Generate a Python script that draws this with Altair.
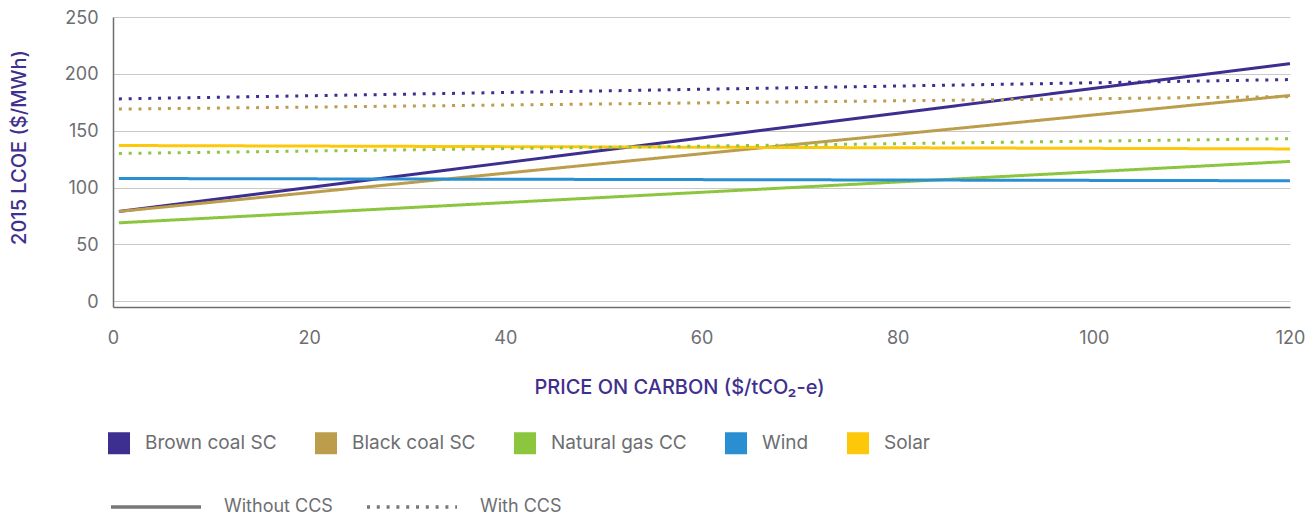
import altair as alt
import pandas as pd

# ---- data ----
technologies = ["Brown coal SC", "Black coal SC", "Natural gas CC", "Wind", "Solar"]
tech_colors = ["#3c2f90", "#bb9d4b", "#8cc63f", "#2a8fd0", "#fec80a"]
ccs_types = ["Without CCS", "With CCS"]

price_start = 0.6
price_end = 120

without_ccs_start = [79, 79, 69, 108, 137]
without_ccs_end = [209, 181, 123, 106, 134]

with_ccs_techs = ["Brown coal SC", "Black coal SC", "Natural gas CC"]
with_ccs_start = [178, 169, 130]
with_ccs_end = [195, 180, 143]

y_ticks = [0, 50, 100, 150, 200, 250]
x_ticks = [0, 20, 40, 60, 80, 100, 120]

rows = []
for t, a, b in zip(technologies, without_ccs_start, without_ccs_end):
    rows.append({"tech": t, "ccs": "Without CCS", "price": price_start, "lcoe": a})
    rows.append({"tech": t, "ccs": "Without CCS", "price": price_end, "lcoe": b})
for t, a, b in zip(with_ccs_techs, with_ccs_start, with_ccs_end):
    rows.append({"tech": t, "ccs": "With CCS", "price": price_start, "lcoe": a})
    rows.append({"tech": t, "ccs": "With CCS", "price": price_end, "lcoe": b})
df = pd.DataFrame(rows)
df["series"] = df["tech"] + " | " + df["ccs"]

FONT = "Inter"
GREY = "#6d6e71"
PURPLE = "#3f2f8e"

chart = (
    alt.Chart(df)
    .mark_line(strokeCap="butt", strokeWidth=3)
    .encode(
        x=alt.X(
            "price:Q",
            scale=alt.Scale(domain=[0, 120], nice=False, zero=False),
            axis=alt.Axis(
                title="PRICE ON CARBON ($/tCO₂-e)",
                values=x_ticks,
                grid=False,
                ticks=False,
                tickSize=0,
                labelFlush=False,
                labelPadding=31,
                labelBaseline="middle",
                labelFontSize=18,
                labelColor=GREY,
                labelFont=FONT,
                domainColor=GREY,
                domainWidth=1.5,
                titleFont=FONT,
                titleFontSize=20,
                titleFontWeight=500,
                titleColor=PURPLE,
                titleX=566,
                titleY=80,
                titleBaseline="middle",
                titleAlign="center",
            ),
        ),
        y=alt.Y(
            "lcoe:Q",
            scale=alt.Scale(domain=[-5, 250], nice=False, zero=False),
            axis=alt.Axis(
                title="2015 LCOE ($/MWh)",
                values=y_ticks,
                grid=True,
                gridColor="#c9c9c9",
                gridWidth=1,
                ticks=False,
                tickSize=0,
                labelFlush=False,
                labelPadding=15,
                labelOffset=1,
                labelFontSize=18,
                labelColor=GREY,
                labelFont=FONT,
                domainColor=GREY,
                domainWidth=1.5,
                titleFont=FONT,
                titleFontSize=20,
                titleFontWeight=500,
                titleColor=PURPLE,
                titleX=-94,
                titleY=130,
                titleAngle=270,
                titleBaseline="middle",
                titleAlign="center",
            ),
        ),
        color=alt.Color(
            "tech:N",
            scale=alt.Scale(domain=technologies, range=tech_colors),
            legend=alt.Legend(
                title=None,
                orient="none",
                direction="horizontal",
                legendX=-5,
                legendY=415,
                padding=0,
                symbolType="square",
                symbolSize=121,
                symbolStrokeWidth=11,
                symbolOpacity=1,
                labelFont=FONT,
                labelFontSize=19,
                labelColor=GREY,
                labelOffset=15,
                columnPadding=21,
            ),
        ),
        strokeDash=alt.StrokeDash(
            "ccs:N",
            scale=alt.Scale(domain=ccs_types, range=[[1, 0], [3, 6.8]]),
            legend=alt.Legend(
                title=None,
                orient="none",
                direction="horizontal",
                legendX=-4,
                legendY=443,
                padding=0,
                symbolType="stroke",
                symbolSize=8100,
                symbolStrokeWidth=3.5,
                symbolStrokeColor="#77787b",
                labelFont=FONT,
                labelFontSize=18,
                labelColor=GREY,
                labelOffset=21,
                columnPadding=27,
            ),
        ),
        detail="series:N",
    )
    .properties(
        width=1177,
        height=290,
        autosize=alt.AutoSizeParams(type="none"),
        padding={"left": 105, "top": 9, "right": 16, "bottom": 209},
    )
    .configure_view(stroke=None)
)

chart.save("out.html", embed_options={"renderer": "svg", "actions": False})
